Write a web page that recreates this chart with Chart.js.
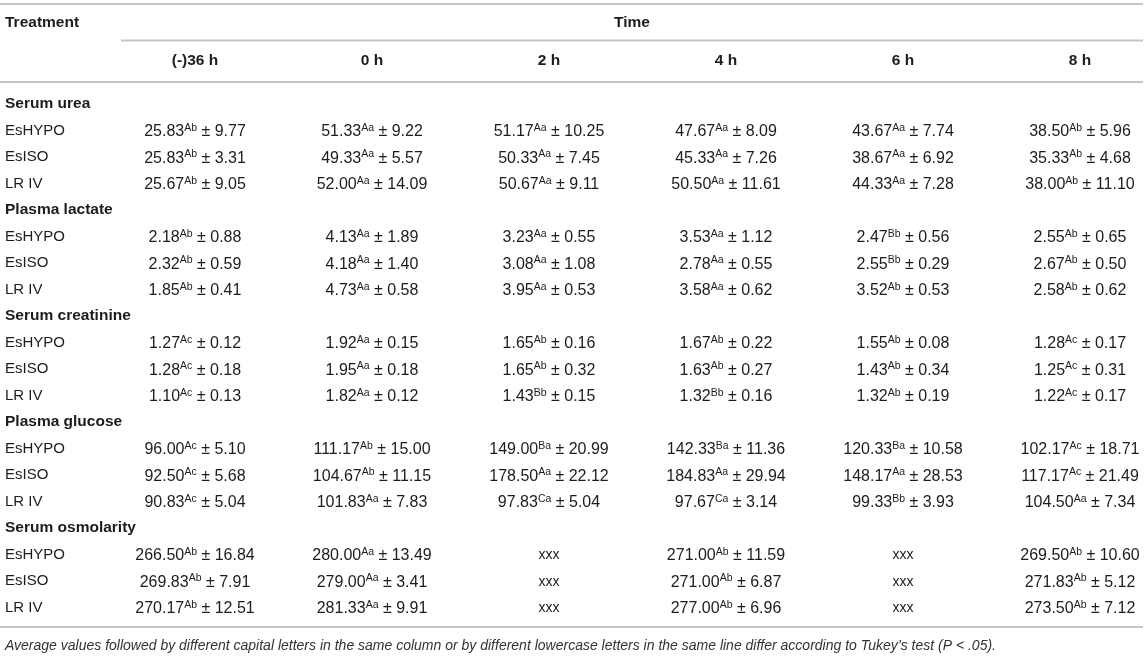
<!DOCTYPE html>
<html>
<head>
<meta charset="utf-8">
<script src="https://cdn.jsdelivr.net/npm/chart.js@4"></script>
<style>
  html, body { margin: 0; padding: 0; background: #fff; }
  #wrap { width: 1146px; height: 656px; position: relative; }
</style>
</head>
<body>
<div id="wrap"><canvas id="chartTabela"></canvas></div>
<script>
// columns and rows
const timeLabels = ['(-)36 h', '0 h', '2 h', '4 h', '6 h', '8 h'];
const treatments = ['EsHYPO', 'EsISO', 'LR IV'];
const variables = ['Serum urea', 'Plasma lactate', 'Serum creatinine', 'Plasma glucose', 'Serum osmolarity'];

// means (one row per treatment), null = not measured
const ureaMean = [
  [25.83, 51.33, 51.17, 47.67, 43.67, 38.50],
  [25.83, 49.33, 50.33, 45.33, 38.67, 35.33],
  [25.67, 52.00, 50.67, 50.50, 44.33, 38.00]
];
const ureaSd = [
  [9.77, 9.22, 10.25, 8.09, 7.74, 5.96],
  [3.31, 5.57, 7.45, 7.26, 6.92, 4.68],
  [9.05, 14.09, 9.11, 11.61, 7.28, 11.10]
];
const ureaLetters = [
  ['Ab', 'Aa', 'Aa', 'Aa', 'Aa', 'Ab'],
  ['Ab', 'Aa', 'Aa', 'Aa', 'Aa', 'Ab'],
  ['Ab', 'Aa', 'Aa', 'Aa', 'Aa', 'Ab']
];

const lactateMean = [
  [2.18, 4.13, 3.23, 3.53, 2.47, 2.55],
  [2.32, 4.18, 3.08, 2.78, 2.55, 2.67],
  [1.85, 4.73, 3.95, 3.58, 3.52, 2.58]
];
const lactateSd = [
  [0.88, 1.89, 0.55, 1.12, 0.56, 0.65],
  [0.59, 1.40, 1.08, 0.55, 0.29, 0.50],
  [0.41, 0.58, 0.53, 0.62, 0.53, 0.62]
];
const lactateLetters = [
  ['Ab', 'Aa', 'Aa', 'Aa', 'Bb', 'Ab'],
  ['Ab', 'Aa', 'Aa', 'Aa', 'Bb', 'Ab'],
  ['Ab', 'Aa', 'Aa', 'Aa', 'Ab', 'Ab']
];

const creatinineMean = [
  [1.27, 1.92, 1.65, 1.67, 1.55, 1.28],
  [1.28, 1.95, 1.65, 1.63, 1.43, 1.25],
  [1.10, 1.82, 1.43, 1.32, 1.32, 1.22]
];
const creatinineSd = [
  [0.12, 0.15, 0.16, 0.22, 0.08, 0.17],
  [0.18, 0.18, 0.32, 0.27, 0.34, 0.31],
  [0.13, 0.12, 0.15, 0.16, 0.19, 0.17]
];
const creatinineLetters = [
  ['Ac', 'Aa', 'Ab', 'Ab', 'Ab', 'Ac'],
  ['Ac', 'Aa', 'Ab', 'Ab', 'Ab', 'Ac'],
  ['Ac', 'Aa', 'Bb', 'Bb', 'Ab', 'Ac']
];

const glucoseMean = [
  [96.00, 111.17, 149.00, 142.33, 120.33, 102.17],
  [92.50, 104.67, 178.50, 184.83, 148.17, 117.17],
  [90.83, 101.83, 97.83, 97.67, 99.33, 104.50]
];
const glucoseSd = [
  [5.10, 15.00, 20.99, 11.36, 10.58, 18.71],
  [5.68, 11.15, 22.12, 29.94, 28.53, 21.49],
  [5.04, 7.83, 5.04, 3.14, 3.93, 7.34]
];
const glucoseLetters = [
  ['Ac', 'Ab', 'Ba', 'Ba', 'Ba', 'Ac'],
  ['Ac', 'Ab', 'Aa', 'Aa', 'Aa', 'Ac'],
  ['Ac', 'Aa', 'Ca', 'Ca', 'Bb', 'Aa']
];

const osmoMean = [
  [266.50, 280.00, null, 271.00, null, 269.50],
  [269.83, 279.00, null, 271.00, null, 271.83],
  [270.17, 281.33, null, 277.00, null, 273.50]
];
const osmoSd = [
  [16.84, 13.49, null, 11.59, null, 10.60],
  [7.91, 3.41, null, 6.87, null, 5.12],
  [12.51, 9.91, null, 6.96, null, 7.12]
];
const osmoLetters = [
  ['Ab', 'Aa', null, 'Ab', null, 'Ab'],
  ['Ab', 'Aa', null, 'Ab', null, 'Ab'],
  ['Ab', 'Aa', null, 'Ab', null, 'Ab']
];

const footnote = 'Average values followed by different capital letters in the same column or by different lowercase letters in the same line differ according to Tukey\u2019s test (P < .05).';

const blocos = [
  [ureaMean, ureaSd, ureaLetters],
  [lactateMean, lactateSd, lactateLetters],
  [creatinineMean, creatinineSd, creatinineLetters],
  [glucoseMean, glucoseSd, glucoseLetters],
  [osmoMean, osmoSd, osmoLetters]
];

// one point per cell, x = time column, y = table row
const celulas = [];
const rotulos = [];
blocos.forEach(function(b, v) {
  const base = v * 4;
  rotulos.push({ x: 0, y: base, texto: variables[v], secao: true });
  treatments.forEach(function(t, i) {
    rotulos.push({ x: 0, y: base + 1 + i, texto: t, secao: false });
    timeLabels.forEach(function(h, c) {
      celulas.push({ x: c, y: base + 1 + i, media: b[0][i][c], dp: b[1][i][c], letra: b[2][i][c] });
    });
  });
});

const corTexto = '#1c1c1c';
const corLinha = '#c4c4c4';
const fonte = '"Liberation Sans", Arial, Helvetica, sans-serif';

const tabelaPlugin = {
  id: 'tabela',
  afterDatasetsDraw(chart) {
    const ctx = chart.ctx;
    const area = chart.chartArea;
    const xs = chart.scales.x;
    const ys = chart.scales.y;
    ctx.save();

    // rules
    ctx.strokeStyle = corLinha;
    ctx.lineWidth = 2;
    const linha = function(x0, x1, y) {
      ctx.beginPath(); ctx.moveTo(x0, y); ctx.lineTo(x1, y); ctx.stroke();
    };
    linha(0, area.right, 4);
    linha(area.left, area.right, 40.5);
    linha(0, area.right, 82);
    linha(0, area.right, 627);

    // header
    ctx.fillStyle = corTexto;
    ctx.textBaseline = 'middle';
    ctx.font = 'bold 15.5px ' + fonte;
    ctx.textAlign = 'left';
    ctx.fillText('Treatment', 5, 23);
    ctx.textAlign = 'center';
    ctx.fillText('Time', (area.left + area.right) / 2, 23);
    timeLabels.forEach(function(h, c) {
      ctx.fillText(h, xs.getPixelForValue(c), 61);
    });

    // row labels
    ctx.textAlign = 'left';
    rotulos.forEach(function(r) {
      ctx.font = (r.secao ? 'bold 15.5px ' : '15px ') + fonte;
      ctx.fillText(r.texto, 5, ys.getPixelForValue(r.y));
    });

    // cells
    const meta = chart.getDatasetMeta(0);
    meta.data.forEach(function(pt, k) {
      const d = celulas[k];
      const cx = pt.x;
      const base = pt.y + 5.5;
      ctx.textBaseline = 'alphabetic';
      if (d.media === null) {
        ctx.font = '14px ' + fonte;
        ctx.textAlign = 'center';
        ctx.fillText('xxx', cx, base - 1);
        return;
      }
      const t1 = d.media.toFixed(2);
      const t3 = ' \u00b1 ' + d.dp.toFixed(2);
      ctx.font = '16px ' + fonte;
      const w1 = ctx.measureText(t1).width;
      const w3 = ctx.measureText(t3).width;
      ctx.font = '10.5px ' + fonte;
      const w2 = ctx.measureText(d.letra).width;
      const x0 = cx - (w1 + w2 + w3) / 2;
      ctx.textAlign = 'left';
      ctx.font = '16px ' + fonte;
      ctx.fillText(t1, x0, base);
      ctx.font = '10.5px ' + fonte;
      ctx.fillText(d.letra, x0 + w1, base - 5.5);
      ctx.font = '16px ' + fonte;
      ctx.fillText(t3, x0 + w1 + w2, base);
    });

    // footnote
    ctx.font = 'italic 14px ' + fonte;
    ctx.fillStyle = '#333';
    ctx.textBaseline = 'middle';
    ctx.textAlign = 'left';
    ctx.fillText(footnote, 5, 646);
    ctx.restore();
  }
};

new Chart(document.getElementById('chartTabela'), {
  type: 'scatter',
  data: {
    datasets: [{
      data: celulas,
      pointRadius: 0,
      pointHoverRadius: 0,
      showLine: false
    }]
  },
  options: {
    responsive: true,
    maintainAspectRatio: false,
    animation: false,
    events: [],
    layout: { padding: { left: 121, right: 3, top: 90.75, bottom: 35.25 } },
    plugins: { legend: { display: false }, tooltip: { enabled: false } },
    scales: {
      x: { type: 'linear', display: false, min: -0.418, max: 5.356 },
      y: { type: 'linear', display: false, reverse: true, min: -0.5, max: 19.5 }
    }
  },
  plugins: [tabelaPlugin]
});
</script>
</body>
</html>
